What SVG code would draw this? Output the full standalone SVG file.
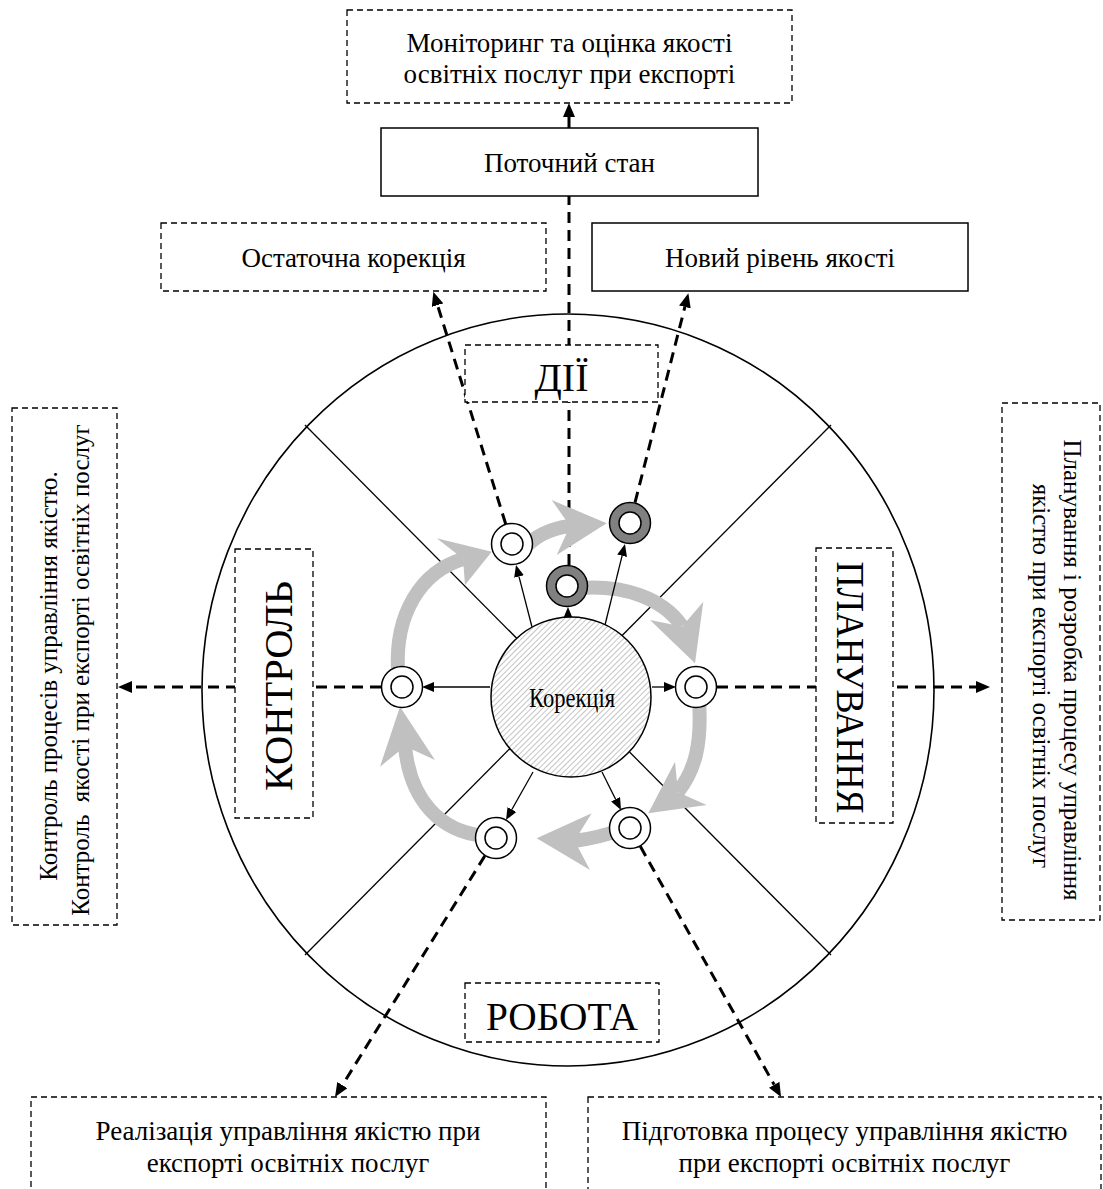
<svg xmlns="http://www.w3.org/2000/svg" width="1103" height="1189" viewBox="0 0 1103 1189">
<style>
.t{font-family:"Liberation Serif","Times New Roman",serif;font-size:27px;text-anchor:middle;fill:#000}
.side{font-size:25px}
.big{font-size:40px}
.dbox{fill:#fff;stroke:#000;stroke-width:1.3;stroke-dasharray:6 4}
.sbox{fill:#fff;stroke:#000;stroke-width:1.5}
.conn{stroke:#000;stroke-width:3;stroke-dasharray:11 7;fill:none}
.thin{stroke:#000;stroke-width:1.3;fill:none}
.band{stroke:#c0c0c0;stroke-width:14;fill:none}
.head{fill:#c0c0c0}
.ringw{fill:#fff;stroke:#000;stroke-width:1.5}
.ringg{fill:#808080;stroke:#000;stroke-width:1.5}
.frame{fill:none;stroke:#000;stroke-width:1.6}
.div{stroke:#000;stroke-width:1.3}
</style>
<defs>
<marker id="bh" markerUnits="userSpaceOnUse" markerWidth="14" markerHeight="12" refX="0" refY="6" orient="auto">
<path d="M0,0 L14,6 L0,12 z" fill="#000"/>
</marker>
<marker id="th" markerUnits="userSpaceOnUse" markerWidth="12" markerHeight="10" refX="0" refY="5" orient="auto">
<path d="M0,0 L12,5 L0,10 z" fill="#000"/>
</marker>
<pattern id="hatch" width="4" height="4" patternUnits="userSpaceOnUse" patternTransform="rotate(45)">
<rect width="4" height="4" fill="#fff"/>
<line x1="0" y1="0" x2="0" y2="4" stroke="#8a8a8a" stroke-width="1"/>
</pattern>
</defs>

<g id="wheel">
<ellipse class="frame" cx="568" cy="690" rx="366" ry="376"/>
<line class="div" x1="305" y1="425" x2="831" y2="955"/>
<line class="div" x1="831" y1="425" x2="305" y2="955"/>
</g>

<g id="connectors">
<line class="conn" x1="569" y1="565" x2="569" y2="196"/>
<line class="conn" x1="569" y1="128" x2="569" y2="117" marker-end="url(#bh)"/>
<line class="conn" x1="505.7" y1="524" x2="437.5" y2="305.1" marker-end="url(#bh)"/>
<line class="conn" x1="635" y1="502.6" x2="684.9" y2="306.9" marker-end="url(#bh)"/>
<line class="conn" x1="381" y1="687" x2="132" y2="687" marker-end="url(#bh)"/>
<line class="conn" x1="717" y1="687" x2="976" y2="687" marker-end="url(#bh)"/>
<line class="conn" x1="484.9" y1="855.8" x2="342.4" y2="1085.1" marker-end="url(#bh)"/>
<line class="conn" x1="640.3" y1="846.3" x2="774.2" y2="1084.8" marker-end="url(#bh)"/>
</g>

<g id="monitoring">
<rect class="dbox" x="347" y="10" width="445" height="93"/>
<text class="t" x="569.5" y="52">Моніторинг та оцінка якості</text>
<text class="t" x="569.5" y="83">освітніх послуг при експорті</text>
</g>
<g id="current-state">
<rect class="sbox" x="381" y="128" width="377" height="68"/>
<text class="t" x="569.5" y="172">Поточний стан</text>
</g>
<g id="final-correction">
<rect class="dbox" x="161" y="223" width="385" height="68"/>
<text class="t" x="353.5" y="267">Остаточна корекція</text>
</g>
<g id="new-level">
<rect class="sbox" x="592" y="223" width="376" height="68"/>
<text class="t" x="780" y="267">Новий рівень якості</text>
</g>
<g id="actions">
<rect class="dbox" x="465" y="345" width="193" height="57"/>
<text class="t big" x="561.5" y="391">ДІЇ</text>
</g>
<g id="control">
<rect class="dbox" x="235" y="549" width="78" height="269"/>
<text class="t big" transform="translate(292,686) rotate(-90)" x="0" y="0" textLength="210" lengthAdjust="spacingAndGlyphs">КОНТРОЛЬ</text>
</g>
<g id="planning">
<rect class="dbox" x="816" y="548" width="77" height="275"/>
<text class="t big" transform="translate(837,687.5) rotate(90)" x="0" y="0" textLength="252" lengthAdjust="spacingAndGlyphs">ПЛАНУВАННЯ</text>
</g>
<g id="work">
<rect class="dbox" x="465" y="983" width="194" height="59"/>
<text class="t big" x="562" y="1030" textLength="152" lengthAdjust="spacingAndGlyphs">РОБОТА</text>
</g>
<g id="control-desc">
<rect class="dbox" x="12" y="408" width="105" height="517"/>
<text class="t side" transform="translate(57,676) rotate(-90)">Контроль процесів управління якістю.</text>
<text class="t side" transform="translate(89,670) rotate(-90)" xml:space="preserve">Контроль  якості при експорті освітніх послуг</text>
</g>
<g id="planning-desc">
<rect class="dbox" x="1002" y="403" width="98" height="517"/>
<text class="t side" transform="translate(1064,670) rotate(90)">Планування і розробка процесу управління</text>
<text class="t side" transform="translate(1033,676) rotate(90)">якістю при експорті освітніх послуг</text>
</g>
<g id="realization">
<rect class="dbox" x="31" y="1097" width="515" height="130"/>
<text class="t" x="288" y="1140">Реалізація управління якістю при</text>
<text class="t" x="288" y="1172">експорті освітніх послуг</text>
</g>
<g id="preparation">
<rect class="dbox" x="588" y="1097" width="513" height="130"/>
<text class="t" x="844.5" y="1140">Підготовка процесу управління якістю</text>
<text class="t" x="844.5" y="1172">при експорті освітніх послуг</text>
</g>

<g id="cycle">
<path class="band" d="M525,548 Q540,530 570,526"/>
<polygon class="head" points="606.7,523.3 551.7,500 570,526 556.7,555"/>
<path class="band" d="M580,588 C625,585 662,598 682,626"/>
<polygon class="head" points="695,663.3 703.3,601.7 682.2,626.6 650,620"/>
<path class="band" d="M699,700 C702,745 695,770 678,792"/>
<polygon class="head" points="648.3,813.3 675,761.7 678,792.3 706.7,805"/>
<path class="band" d="M620,830 Q598,838 574,841"/>
<polygon class="head" points="536.7,838.3 591.7,813.3 574.6,840.7 590,870"/>
<path class="band" d="M485,836 C440,832 410,800 405,746"/>
<polygon class="head" points="400,706.7 380,766.7 405.2,746.3 435,760"/>
<path class="band" d="M398,670 C395,615 420,572 463,559"/>
<polygon class="head" points="491.7,551.7 436.7,538.3 463,558.7 465,585"/>
</g>

<g id="spokes">
<line class="thin" x1="490" y1="687" x2="434" y2="687" marker-end="url(#th)"/>
<line class="thin" x1="652" y1="687" x2="664" y2="687" marker-end="url(#th)"/>
<line class="thin" x1="568" y1="640" x2="568" y2="619" marker-end="url(#th)"/>
<line class="thin" x1="532" y1="627" x2="519" y2="576.6" marker-end="url(#th)"/>
<line class="thin" x1="605" y1="625" x2="622.1" y2="555.7" marker-end="url(#th)"/>
<line class="thin" x1="533" y1="772" x2="511.9" y2="809.5" marker-end="url(#th)"/>
<line class="thin" x1="602" y1="772" x2="615.6" y2="799.3" marker-end="url(#th)"/>
</g>

<g id="correction">
<circle cx="571" cy="697" r="80" fill="url(#hatch)" stroke="#000" stroke-width="1.5"/>
<text class="t" x="572" y="707" font-size="27" textLength="86" lengthAdjust="spacingAndGlyphs">Корекція</text>
</g>

<g id="ring-topleft"><circle class="ringw" cx="512" cy="544" r="20.5"/><circle class="ringw" cx="512" cy="544" r="11"/></g>
<g id="ring-topright"><circle class="ringg" cx="630" cy="523" r="20.5"/><circle class="ringw" cx="630" cy="523" r="11"/></g>
<g id="ring-center"><circle class="ringg" cx="567" cy="586" r="20.5"/><circle class="ringw" cx="567" cy="586" r="11"/></g>
<g id="ring-left"><circle class="ringw" cx="402" cy="687" r="20.5"/><circle class="ringw" cx="402" cy="687" r="11"/></g>
<g id="ring-right"><circle class="ringw" cx="696" cy="687" r="20.5"/><circle class="ringw" cx="696" cy="687" r="11"/></g>
<g id="ring-bottomleft"><circle class="ringw" cx="496" cy="838" r="20.5"/><circle class="ringw" cx="496" cy="838" r="11"/></g>
<g id="ring-bottomright"><circle class="ringw" cx="630" cy="828" r="20.5"/><circle class="ringw" cx="630" cy="828" r="11"/></g>
</svg>
